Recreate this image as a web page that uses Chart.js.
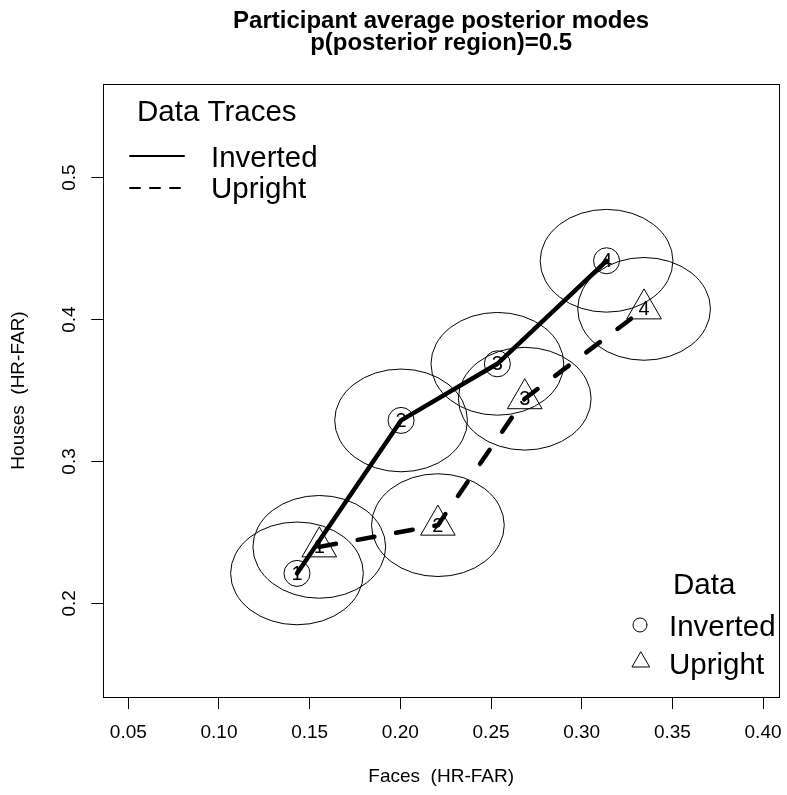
<!DOCTYPE html>
<html>
<head>
<meta charset="utf-8">
<script src="https://cdn.jsdelivr.net/npm/chart.js@4/dist/chart.umd.min.js"></script>
<style>
  html, body { margin: 0; padding: 0; background: #fff; overflow: hidden; }
  canvas { display: block; }
</style>
</head>
<body>
<canvas id="modes" width="800" height="795"></canvas>
<script>
// posterior modes per session, faces (x) vs houses (y)
const sessions = ['1', '2', '3', '4'];
const invertedFaces = [0.1430, 0.2004, 0.2535, 0.3137];
const invertedHouses = [0.2211, 0.3289, 0.3688, 0.4414];
const uprightFaces = [0.1553, 0.2207, 0.2686, 0.3344];
const uprightHouses = [0.2398, 0.2551, 0.3442, 0.4075];
// half-width of the 0.5 posterior region, faces / houses
const regionFaces = 0.0366;
const regionHouses = 0.0362;

const xTicks = [0.05, 0.10, 0.15, 0.20, 0.25, 0.30, 0.35, 0.40];
const yTicks = [0.2, 0.3, 0.4, 0.5];

const FONT = "'Liberation Sans', Arial, Helvetica, sans-serif";
Chart.defaults.font.family = FONT;
Chart.defaults.color = '#000';

const toPoints = (xs, ys) => xs.map((x, i) => ({ x: x, y: ys[i] }));

// circles around each mode, drawn under the traces
const regions = {
  id: 'regions',
  beforeDatasetsDraw(chart) {
    const { ctx, scales: { x, y } } = chart;
    ctx.save();
    ctx.strokeStyle = '#000';
    ctx.lineWidth = 1;
    [[invertedFaces, invertedHouses], [uprightFaces, uprightHouses]].forEach(([fx, hy]) => {
      fx.forEach((f, i) => {
        const cx = x.getPixelForValue(f);
        const cy = y.getPixelForValue(hy[i]);
        const rx = x.getPixelForValue(f + regionFaces) - cx;
        const ry = cy - y.getPixelForValue(hy[i] + regionHouses);
        ctx.beginPath();
        ctx.ellipse(cx, cy, rx, ry, 0, 0, Math.PI * 2);
        ctx.stroke();
      });
    });
    ctx.restore();
  }
};

// session numbers inside the markers, box, rotated y labels, legends
const decorations = {
  id: 'decorations',
  afterDraw(chart) {
    const { ctx, chartArea: a, scales: { y } } = chart;
    ctx.save();
    ctx.fillStyle = '#000';
    ctx.textAlign = 'center';
    ctx.textBaseline = 'middle';
    ctx.font = '20px ' + FONT;
    chart.data.datasets.forEach((ds, di) => {
      chart.getDatasetMeta(di).data.forEach((pt, i) => {
        ctx.fillText(sessions[i], pt.x, pt.y + 1);
      });
    });

    ctx.strokeStyle = '#000';
    ctx.lineWidth = 1;
    ctx.strokeRect(Math.round(a.left) + 0.5, Math.round(a.top) + 0.5,
      Math.round(a.right - a.left), Math.round(a.bottom - a.top));

    ctx.font = '19px ' + FONT;
    ctx.textBaseline = 'alphabetic';
    yTicks.forEach(v => {
      const py = y.getPixelForValue(v);
      ctx.save();
      ctx.translate(75, py);
      ctx.rotate(-Math.PI / 2);
      ctx.fillText(v.toFixed(1), 0, 0);
      ctx.restore();
    });

    // line legend, top left
    ctx.font = '29.5px ' + FONT;
    ctx.textAlign = 'left';
    ctx.fillText('Data Traces', 137, 121);
    ctx.fillText('Inverted', 211, 167);
    ctx.fillText('Upright', 211, 198);
    ctx.lineWidth = 2;
    ctx.lineCap = 'round';
    ctx.beginPath();
    ctx.moveTo(130, 156);
    ctx.lineTo(184, 156);
    ctx.stroke();
    ctx.setLineDash([10, 10]);
    ctx.beginPath();
    ctx.moveTo(130, 188);
    ctx.lineTo(184, 188);
    ctx.stroke();
    ctx.setLineDash([]);

    // marker legend, bottom right
    ctx.fillText('Data', 673, 594);
    ctx.fillText('Inverted', 669, 636);
    ctx.fillText('Upright', 669, 674);
    ctx.lineWidth = 1;
    ctx.beginPath();
    ctx.arc(640, 625, 7, 0, Math.PI * 2);
    ctx.stroke();
    const tr = 10;
    ctx.beginPath();
    ctx.moveTo(641, 662 - tr);
    ctx.lineTo(641 + tr * 0.866, 662 + tr / 2);
    ctx.lineTo(641 - tr * 0.866, 662 + tr / 2);
    ctx.closePath();
    ctx.stroke();
    ctx.restore();
  }
};

const tickGrid = { drawOnChartArea: false, drawTicks: true, tickLength: 12, color: '#000', lineWidth: 1 };

new Chart(document.getElementById('modes'), {
  type: 'scatter',
  data: {
    datasets: [
      {
        label: 'Inverted',
        data: toPoints(invertedFaces, invertedHouses),
        showLine: true,
        borderColor: '#000',
        borderWidth: 4.5,
        borderCapStyle: 'round',
        borderJoinStyle: 'round',
        pointStyle: 'circle',
        pointRadius: 13,
        pointBorderWidth: 1,
        pointBorderColor: '#000',
        pointBackgroundColor: 'rgba(0,0,0,0)'
      },
      {
        label: 'Upright',
        data: toPoints(uprightFaces, uprightHouses),
        showLine: true,
        borderColor: '#000',
        borderWidth: 4.5,
        borderDash: [17, 22],
        borderCapStyle: 'round',
        borderJoinStyle: 'round',
        pointStyle: 'triangle',
        pointRadius: 20,
        pointBorderWidth: 1,
        pointBorderColor: '#000',
        pointBackgroundColor: 'rgba(0,0,0,0)'
      }
    ]
  },
  options: {
    responsive: false,
    animation: false,
    events: [],
    layout: { padding: { left: 0, right: 11.6, top: 0, bottom: 0 } },
    plugins: {
      legend: { display: false },
      tooltip: { enabled: false },
      title: {
        display: true,
        fullSize: false,
        text: ['Participant average posterior modes', 'p(posterior region)=0.5'],
        color: '#000',
        font: { size: 24, weight: 'bold', lineHeight: 0.92 },
        padding: { top: 10, bottom: 29.8 }
      }
    },
    scales: {
      x: {
        type: 'linear',
        min: 0.0362,
        max: 0.4088,
        afterBuildTicks: s => { s.ticks = xTicks.map(v => ({ value: v })); },
        afterFit: s => { s.height = 98; },
        grid: tickGrid,
        border: { display: false },
        ticks: { color: '#000', font: { size: 19 }, padding: 12, maxRotation: 0, autoSkip: false, callback: v => v.toFixed(2) },
        title: { display: true, text: 'Faces  (HR-FAR)', color: '#000', font: { size: 19 }, padding: { bottom: 7 } }
      },
      y: {
        type: 'linear',
        min: 0.134,
        max: 0.566,
        afterBuildTicks: s => { s.ticks = yTicks.map(v => ({ value: v })); },
        afterFit: s => { s.width = 103.3; },
        grid: tickGrid,
        border: { display: false },
        ticks: { display: false },
        title: { display: true, text: 'Houses  (HR-FAR)', color: '#000', font: { size: 19 }, padding: { top: 7 } }
      }
    }
  },
  plugins: [regions, decorations]
});
</script>
</body>
</html>
